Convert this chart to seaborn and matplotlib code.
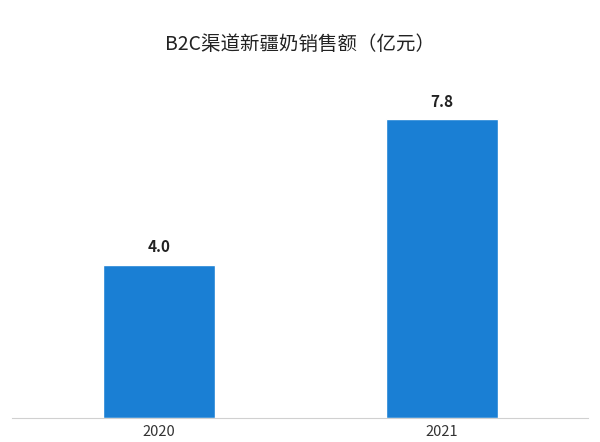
import matplotlib
matplotlib.use("Agg")
import matplotlib.pyplot as plt
import seaborn as sns
import pandas as pd

years = ["2020", "2021"]
sales = [4.0, 7.8]

sns.set_style("white")
plt.rcParams['font.family'] = ['Noto Sans CJK SC', 'DejaVu Sans']

fig = plt.figure(figsize=(6, 4.42), dpi=100)
ax = fig.add_axes([12/600, 1-418/442, 576/600, 358/442])
df = pd.DataFrame({"year": years, "sales": sales})
sns.barplot(data=df, x="year", y="sales", color="#1a7fd4", saturation=1, width=0.396, ax=ax)
ax.set_xlim(-0.52, 1.516)
ax.set_ylim(0, 9.35)
for i, v in enumerate(sales):
    ax.text(i, v + 0.25, f"{v:.1f}", ha="center", va="bottom", fontsize=11, fontweight="bold", color="#222222")
for s in ["top", "right", "left"]:
    ax.spines[s].set_visible(False)
ax.spines["bottom"].set_color("#d0d0d0")
ax.set_yticks([])
ax.set_xlabel("")
ax.set_ylabel("")
ax.tick_params(axis="x", length=0, labelsize=10.5, colors="#333333", pad=5)
fig.text(0.5, 1-45/442, "B2C渠道新疆奶销售额（亿元）", ha="center", va="center", fontsize=14, color="#222222")
fig.savefig("out.png", dpi=100, facecolor="white")
